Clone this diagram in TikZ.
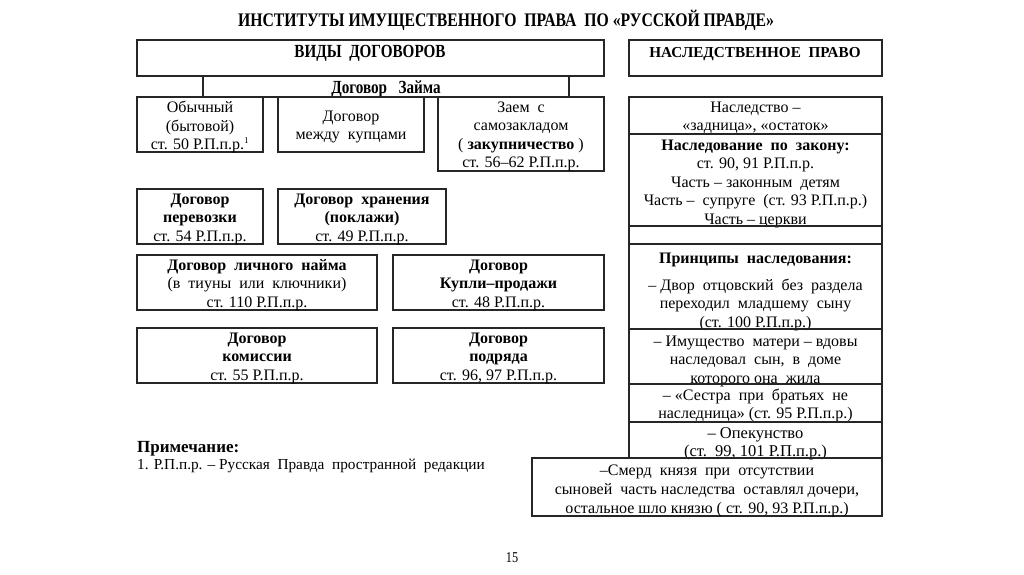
\documentclass[tikz,border=0pt]{standalone}
\usepackage{fontspec}
\setmainfont{Liberation Serif}
\newfontfamily\cserif[FakeStretch=0.82]{Liberation Serif}
\usetikzlibrary{fit}
\newcommand\bodyfs{\fontsize{16}{18.5}\selectfont}
\tikzset{
  frame/.style={draw=black!85, line width=1.1pt, inner sep=0pt},
  plain/.style={inner sep=0pt, align=center, font=\bodyfs, yshift=-2.5pt},
}
\begin{document}
\begin{tikzpicture}[x=1pt,y=-1pt]
\useasboundingbox[fill=white] (0,0) rectangle (1024,574);
% title
\node[inner sep=0pt, font=\cserif\bfseries\fontsize{19.2}{22}\selectfont] (title) at (506,20) {ИНСТИТУТЫ ИМУЩЕСТВЕННОГО\ \ ПРАВА\ \ ПО «РУССКОЙ ПРАВДЕ»};
% headers
\node[frame, fit={(137,40)(604,76)}] (vidy) {};
\node[plain, font=\cserif\bfseries\fontsize{18.5}{20}\selectfont] (vidyT) at (370,51) {ВИДЫ\ \ ДОГОВОРОВ};
\node[frame, fit={(629,40)(882,76)}] (nasl) {};
\node[plain, font=\bfseries\fontsize{15.2}{18}\selectfont] (naslT) at (755,52) {НАСЛЕДСТВЕННОЕ\ \ ПРАВО};
\node[frame, fit={(203,76)(569,97)}] (zaim) {};
\node[plain, font=\cserif\bfseries\fontsize{18.5}{20}\selectfont] (zaimT) at (zaim.center) {Договор\ \ \ Займа};
% loan boxes
\node[frame, fit={(137,97)(263,152)}] (obych) {};
\node[plain] (obychT) at (obych.center) {Обычный\\(бытовой)\\ст. 50 Р.П.п.р.\textsuperscript{\fontsize{9}{9}\selectfont 1}};
\node[frame, fit={(278,97)(424,152)}] (kupcy) {};
\node[plain] (kupcyT) at (kupcy.center) {Договор\\между\ \ купцами};
\node[frame, fit={(438,97)(604,171)}] (zaem) {};
\node[plain] (zaemT) at (zaem.center) {Заем\ \ с\\самозакладом\\( \textbf{закупничество} )\\ст. 56–62 Р.П.п.р.};
% other contracts
\node[frame, fit={(137,189)(263,244)}] (perevoz) {};
\node[plain] (perevozT) at (perevoz.center) {\textbf{Договор}\\\textbf{перевозки}\\ст. 54 Р.П.п.р.};
\node[frame, fit={(278,189)(446,244)}] (hran) {};
\node[plain] (hranT) at (hran.center) {\textbf{Договор\ \ хранения}\\\textbf{(поклажи)}\\ст. 49 Р.П.п.р.};
\node[frame, fit={(137,255)(377,310)}] (naim) {};
\node[plain] (naimT) at (naim.center) {\textbf{Договор\ \ личного\ \ найма}\\(в\ \ тиуны\ \ или\ \ ключники)\\ст. 110 Р.П.п.р.};
\node[frame, fit={(393,255)(604,310)}] (kupli) {};
\node[plain] (kupliT) at (kupli.center) {\textbf{Договор}\\\textbf{Купли–продажи}\\ст. 48 Р.П.п.р.};
\node[frame, fit={(137,328)(377,383)}] (komis) {};
\node[plain] (komisT) at (komis.center) {\textbf{Договор}\\\textbf{комиссии}\\ст. 55 Р.П.п.р.};
\node[frame, fit={(393,328)(604,383)}] (podr) {};
\node[plain] (podrT) at (podr.center) {\textbf{Договор}\\\textbf{подряда}\\ст. 96, 97 Р.П.п.р.};
% inheritance column
\node[frame, fit={(629,97)(882,134)}] (s1) {};
\node[plain] (s1T) at (s1.center) {Наследство –\\«задница», «остаток»};
\node[frame, fit={(629,134)(882,226)}] (s2) {};
\node[plain] (s2T) at ([yshift=-1pt]s2.center) {\textbf{Наследование\ \ по\ \ закону:}\\ст. 90, 91 Р.П.п.р.\\Часть – законным\ \ детям\\Часть –\ \ супруге\ \ (ст. 93 Р.П.п.р.)\\Часть – церкви};
\node[frame, fit={(629,226)(882,244)}] (s3) {};
\node[frame, fit={(629,244)(882,329)}] (s4) {};
\node[plain] (s4T) at ([yshift=-3pt]s4.center) {\textbf{Принципы\ \ наследования:}\\[8pt]– Двор\ \ отцовский\ \ без\ \ раздела\\переходил\ \ младшему\ \ сыну\\(ст. 100 Р.П.п.р.)};
\node[frame, fit={(629,329)(882,384)}] (s5) {};
\node[plain] (s5T) at ([yshift=-2pt]s5.center) {– Имущество\ \ матери – вдовы\\наследовал\ \ сын,\ \ в\ \ доме\\которого она\ \ жила};
\node[frame, fit={(629,384)(882,422)}] (s6) {};
\node[plain] (s6T) at (s6.center) {– «Сестра\ \ при\ \ братьях\ \ не\\наследница» (ст. 95 Р.П.п.р.)};
\node[frame, fit={(629,422)(882,458)}] (s7) {};
\node[plain, font=\fontsize{16.5}{18}\selectfont] (s7T) at ([yshift=-1.5pt]s7.center) {– Опекунство\\(ст.\ \ 99, 101 Р.П.п.р.)};
\node[frame, fit={(532,458)(882,516)}] (smerd) {};
\node[plain, font=\fontsize{16}{19}\selectfont] (smerdT) at ([yshift=-1pt]smerd.center) {–Смерд\ \ князя\ \ при\ \ отсутствии\\сыновей\ \ часть наследства\ \ оставлял дочери,\\остальное шло князю ( ст. 90, 93 Р.П.п.р.)};
% note
\node[inner sep=0pt, anchor=west, font=\bfseries\fontsize{17}{18}\selectfont] (noteH) at (137,449) {Примечание:};
\node[inner sep=0pt, anchor=west, font=\fontsize{15.3}{18}\selectfont] (noteT) at (137,466) {1. Р.П.п.р. – Русская\ \ Правда\ \ пространной\ \ редакции};
% page number
\node[inner sep=0pt, font=\cserif\fontsize{15}{18}\selectfont] (page) at (512,558) {15};
\end{tikzpicture}
\end{document}
